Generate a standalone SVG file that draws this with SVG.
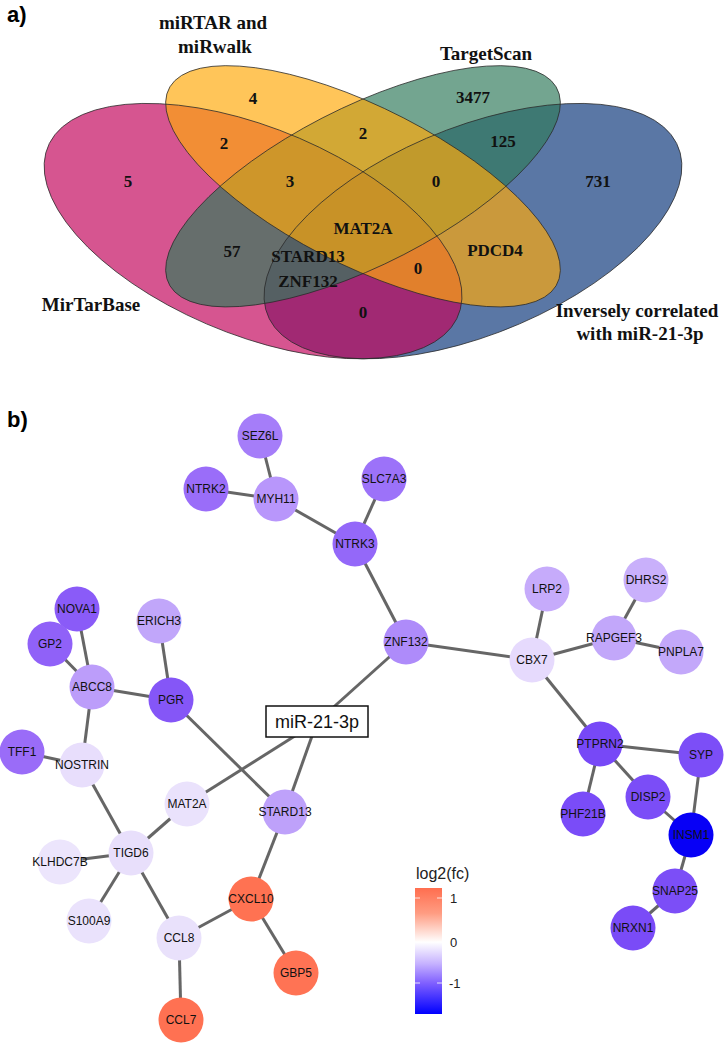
<svg xmlns="http://www.w3.org/2000/svg" width="724" height="1043" viewBox="0 0 724 1043">
<style>
.vf{fill-opacity:0.68;stroke:none}
.vs{fill:none;stroke:#2a2a2a;stroke-width:0.8;vector-effect:non-scaling-stroke}
.vt{font-family:"Liberation Serif",serif;font-weight:bold;font-size:17px;text-anchor:middle;fill:#111}
.vl{font-family:"Liberation Serif",serif;font-weight:bold;font-size:19px;text-anchor:middle;fill:#111}
.pl{font-family:"Liberation Sans",Arial,sans-serif;font-weight:bold;font-size:22px;fill:#000}
.edge{stroke:#666;stroke-width:3;fill:none}
.nd{stroke:none}
.lb{font-family:"Liberation Sans",Arial,sans-serif;font-size:12px;text-anchor:middle;fill:#111}
.lg{font-family:"Liberation Sans",Arial,sans-serif;fill:#222}
</style>
<defs>
<linearGradient id="cb" x1="0" y1="0" x2="0" y2="1">
<stop offset="0" stop-color="#FF6E4F"/>
<stop offset="0.2" stop-color="#FF9C82"/>
<stop offset="0.43" stop-color="#FFFFFF"/>
<stop offset="0.6" stop-color="#C6B2FF"/>
<stop offset="0.754" stop-color="#8060FF"/>
<stop offset="1" stop-color="#0000FF"/>
</linearGradient>
</defs>
<rect width="724" height="1043" fill="#fff"/>
<text class="pl" x="7" y="22">a)</text>
<g id="venn">
<g transform="translate(363,186.3) scale(733,448)">
<ellipse class="vf" fill="#0C367B" rx="0.35" ry="0.2" transform="translate(0.15,0.1) rotate(-45)"/>
<ellipse class="vf" fill="#C2055C" rx="0.35" ry="0.2" transform="translate(-0.15,0.1) rotate(45)"/>
<ellipse class="vf" fill="#307B5C" rx="0.35" ry="0.15" transform="rotate(-45)"/>
<ellipse class="vf" fill="#FFAA0B" rx="0.35" ry="0.15" transform="rotate(45)"/>
<ellipse class="vs" vector-effect="non-scaling-stroke" rx="0.35" ry="0.2" transform="translate(0.15,0.1) rotate(-45)"/>
<ellipse class="vs" vector-effect="non-scaling-stroke" rx="0.35" ry="0.2" transform="translate(-0.15,0.1) rotate(45)"/>
<ellipse class="vs" vector-effect="non-scaling-stroke" rx="0.35" ry="0.15" transform="rotate(-45)"/>
<ellipse class="vs" vector-effect="non-scaling-stroke" rx="0.35" ry="0.15" transform="rotate(45)"/>
</g>
<text class="vl" x="213" y="29">miRTAR and</text>
<text class="vl" x="215" y="53">miRwalk</text>
<text class="vl" x="486" y="60">TargetScan</text>
<text class="vl" x="91" y="311">MirTarBase</text>
<text class="vl" x="637" y="317">Inversely correlated</text>
<text class="vl" x="640" y="340">with miR-21-3p</text>
<text class="vt" x="253" y="104">4</text>
<text class="vt" x="224" y="149">2</text>
<text class="vt" x="128" y="187">5</text>
<text class="vt" x="290" y="187">3</text>
<text class="vt" x="363" y="139">2</text>
<text class="vt" x="473" y="103">3477</text>
<text class="vt" x="503" y="147">125</text>
<text class="vt" x="436" y="187">0</text>
<text class="vt" x="598" y="187">731</text>
<text class="vt" x="363" y="234">MAT2A</text>
<text class="vt" x="232" y="257">57</text>
<text class="vt" x="308" y="262">STARD13</text>
<text class="vt" x="308" y="287">ZNF132</text>
<text class="vt" x="495" y="256">PDCD4</text>
<text class="vt" x="418" y="274">0</text>
<text class="vt" x="363" y="318">0</text>
</g>
<text class="pl" x="7" y="427">b)</text>
<g id="connectors">
<line class="edge" x1="260" y1="436" x2="276" y2="499"/>
<line class="edge" x1="206" y1="489" x2="276" y2="499"/>
<line class="edge" x1="276" y1="499" x2="355" y2="544"/>
<line class="edge" x1="384" y1="479" x2="355" y2="544"/>
<line class="edge" x1="355" y1="544" x2="406" y2="642"/>
<line class="edge" x1="406" y1="642" x2="532" y2="660"/>
<line class="edge" x1="406" y1="642" x2="317" y2="722"/>
<line class="edge" x1="317" y1="722" x2="187" y2="804"/>
<line class="edge" x1="317" y1="722" x2="285" y2="812"/>
<line class="edge" x1="171" y1="700" x2="285" y2="812"/>
<line class="edge" x1="159" y1="621" x2="171" y2="700"/>
<line class="edge" x1="92" y1="687" x2="171" y2="700"/>
<line class="edge" x1="77" y1="609" x2="92" y2="687"/>
<line class="edge" x1="50" y1="644" x2="92" y2="687"/>
<line class="edge" x1="92" y1="687" x2="82" y2="765"/>
<line class="edge" x1="22" y1="752" x2="82" y2="765"/>
<line class="edge" x1="82" y1="765" x2="131" y2="853"/>
<line class="edge" x1="187" y1="804" x2="131" y2="853"/>
<line class="edge" x1="60" y1="862" x2="131" y2="853"/>
<line class="edge" x1="89" y1="921" x2="131" y2="853"/>
<line class="edge" x1="131" y1="853" x2="179" y2="938"/>
<line class="edge" x1="179" y1="938" x2="251" y2="899"/>
<line class="edge" x1="251" y1="899" x2="285" y2="812"/>
<line class="edge" x1="251" y1="899" x2="296" y2="973"/>
<line class="edge" x1="179" y1="938" x2="181" y2="1020"/>
<line class="edge" x1="532" y1="660" x2="547" y2="589"/>
<line class="edge" x1="532" y1="660" x2="614" y2="638"/>
<line class="edge" x1="614" y1="638" x2="646" y2="580"/>
<line class="edge" x1="614" y1="638" x2="681" y2="652"/>
<line class="edge" x1="532" y1="660" x2="600" y2="744"/>
<line class="edge" x1="600" y1="744" x2="701" y2="755"/>
<line class="edge" x1="600" y1="744" x2="648" y2="797"/>
<line class="edge" x1="600" y1="744" x2="583" y2="814"/>
<line class="edge" x1="648" y1="797" x2="691" y2="835"/>
<line class="edge" x1="701" y1="755" x2="691" y2="835"/>
<line class="edge" x1="691" y1="835" x2="675" y2="891"/>
<line class="edge" x1="675" y1="891" x2="633" y2="928"/>
</g>
<g id="n-SEZ6L"><circle class="nd" cx="260" cy="436" r="22.5" fill="#A57DF9"/><text class="lb" x="260" y="440.3">SEZ6L</text></g>
<g id="n-NTRK2"><circle class="nd" cx="206" cy="489" r="22.5" fill="#9A6DF9"/><text class="lb" x="206" y="493.3">NTRK2</text></g>
<g id="n-MYH11"><circle class="nd" cx="276" cy="499" r="22.5" fill="#B896FB"/><text class="lb" x="276" y="503.3">MYH11</text></g>
<g id="n-NTRK3"><circle class="nd" cx="355" cy="544" r="22.5" fill="#9468F9"/><text class="lb" x="355" y="548.3">NTRK3</text></g>
<g id="n-SLC7A3"><circle class="nd" cx="384" cy="479" r="22.5" fill="#9C72F9"/><text class="lb" x="384" y="483.3">SLC7A3</text></g>
<g id="n-NOVA1"><circle class="nd" cx="77" cy="609" r="22.5" fill="#8A5BF8"/><text class="lb" x="77" y="613.3">NOVA1</text></g>
<g id="n-ERICH3"><circle class="nd" cx="159" cy="621" r="22.5" fill="#C1A6FA"/><text class="lb" x="159" y="625.3">ERICH3</text></g>
<g id="n-GP2"><circle class="nd" cx="50" cy="644" r="22.5" fill="#9061F8"/><text class="lb" x="50" y="648.3">GP2</text></g>
<g id="n-ABCC8"><circle class="nd" cx="92" cy="687" r="22.5" fill="#BC9DFA"/><text class="lb" x="92" y="691.3">ABCC8</text></g>
<g id="n-PGR"><circle class="nd" cx="171" cy="700" r="22.5" fill="#8556F7"/><text class="lb" x="171" y="704.3">PGR</text></g>
<g id="n-TFF1"><circle class="nd" cx="22" cy="752" r="22.5" fill="#9A6CF8"/><text class="lb" x="22" y="756.3">TFF1</text></g>
<g id="n-NOSTRIN"><circle class="nd" cx="82" cy="765" r="22.5" fill="#E8DEFC"/><text class="lb" x="82" y="769.3">NOSTRIN</text></g>
<g id="n-MAT2A"><circle class="nd" cx="187" cy="804" r="22.5" fill="#EAE2FC"/><text class="lb" x="187" y="808.3">MAT2A</text></g>
<g id="n-STARD13"><circle class="nd" cx="285" cy="812" r="22.5" fill="#BEA1FA"/><text class="lb" x="285" y="816.3">STARD13</text></g>
<g id="n-KLHDC7B"><circle class="nd" cx="60" cy="862" r="22.5" fill="#ECE5FC"/><text class="lb" x="60" y="866.3">KLHDC7B</text></g>
<g id="n-TIGD6"><circle class="nd" cx="131" cy="853" r="22.5" fill="#E8DFFB"/><text class="lb" x="131" y="857.3">TIGD6</text></g>
<g id="n-S100A9"><circle class="nd" cx="89" cy="921" r="22.5" fill="#EAE2FC"/><text class="lb" x="89" y="925.3">S100A9</text></g>
<g id="n-CCL8"><circle class="nd" cx="179" cy="938" r="22.5" fill="#E9E1FB"/><text class="lb" x="179" y="942.3">CCL8</text></g>
<g id="n-CXCL10"><circle class="nd" cx="251" cy="899" r="22.5" fill="#FF7252"/><text class="lb" x="251" y="903.3">CXCL10</text></g>
<g id="n-GBP5"><circle class="nd" cx="296" cy="973" r="22.5" fill="#FF7354"/><text class="lb" x="296" y="977.3">GBP5</text></g>
<g id="n-CCL7"><circle class="nd" cx="181" cy="1020" r="22.5" fill="#FF7152"/><text class="lb" x="181" y="1024.3">CCL7</text></g>
<g id="n-ZNF132"><circle class="nd" cx="406" cy="642" r="22.5" fill="#AE8BFA"/><text class="lb" x="406" y="646.3">ZNF132</text></g>
<g id="n-LRP2"><circle class="nd" cx="547" cy="589" r="22.5" fill="#C6ABFB"/><text class="lb" x="547" y="593.3">LRP2</text></g>
<g id="n-DHRS2"><circle class="nd" cx="646" cy="580" r="22.5" fill="#C9B0FB"/><text class="lb" x="646" y="584.3">DHRS2</text></g>
<g id="n-CBX7"><circle class="nd" cx="532" cy="660" r="22.5" fill="#E6DAFD"/><text class="lb" x="532" y="664.3">CBX7</text></g>
<g id="n-RAPGEF3"><circle class="nd" cx="614" cy="638" r="22.5" fill="#C2A7FA"/><text class="lb" x="614" y="642.3">RAPGEF3</text></g>
<g id="n-PNPLA7"><circle class="nd" cx="681" cy="652" r="22.5" fill="#C3A8FA"/><text class="lb" x="681" y="656.3">PNPLA7</text></g>
<g id="n-PTPRN2"><circle class="nd" cx="600" cy="744" r="22.5" fill="#7748F7"/><text class="lb" x="600" y="748.3">PTPRN2</text></g>
<g id="n-SYP"><circle class="nd" cx="701" cy="755" r="22.5" fill="#7C4EF7"/><text class="lb" x="701" y="759.3">SYP</text></g>
<g id="n-DISP2"><circle class="nd" cx="648" cy="797" r="22.5" fill="#7B4DF7"/><text class="lb" x="648" y="801.3">DISP2</text></g>
<g id="n-PHF21B"><circle class="nd" cx="583" cy="814" r="22.5" fill="#7A4CF8"/><text class="lb" x="583" y="818.3">PHF21B</text></g>
<g id="n-INSM1"><circle class="nd" cx="691" cy="835" r="22.5" fill="#0700F6"/><text class="lb" x="691" y="839.3">INSM1</text></g>
<g id="n-SNAP25"><circle class="nd" cx="675" cy="891" r="22.5" fill="#7C4EF7"/><text class="lb" x="675" y="895.3">SNAP25</text></g>
<g id="n-NRXN1"><circle class="nd" cx="633" cy="928" r="22.5" fill="#7A4BF7"/><text class="lb" x="633" y="932.3">NRXN1</text></g>
<g id="n-miR-21-3p"><rect x="266" y="706" width="102" height="31" fill="#fff" stroke="#111" stroke-width="1.5"/><text x="317" y="728" font-family="Liberation Sans, Arial, sans-serif" font-size="18" text-anchor="middle" fill="#111">miR-21-3p</text></g>
<g id="legend">
<text class="lg" x="416" y="879" font-size="16">log2(fc)</text>
<rect x="415" y="888" width="27" height="126" fill="url(#cb)"/>
<g stroke="#fff" stroke-width="0.8">
<line x1="415" y1="898" x2="420" y2="898"/><line x1="437" y1="898" x2="442" y2="898"/>
<line x1="415" y1="942" x2="420" y2="942"/><line x1="437" y1="942" x2="442" y2="942"/>
<line x1="415" y1="983" x2="420" y2="983"/><line x1="437" y1="983" x2="442" y2="983"/>
</g>
<text class="lg" x="450" y="903" font-size="13">1</text>
<text class="lg" x="450" y="947" font-size="13">0</text>
<text class="lg" x="449" y="988" font-size="13">-1</text>
</g>
</svg>
